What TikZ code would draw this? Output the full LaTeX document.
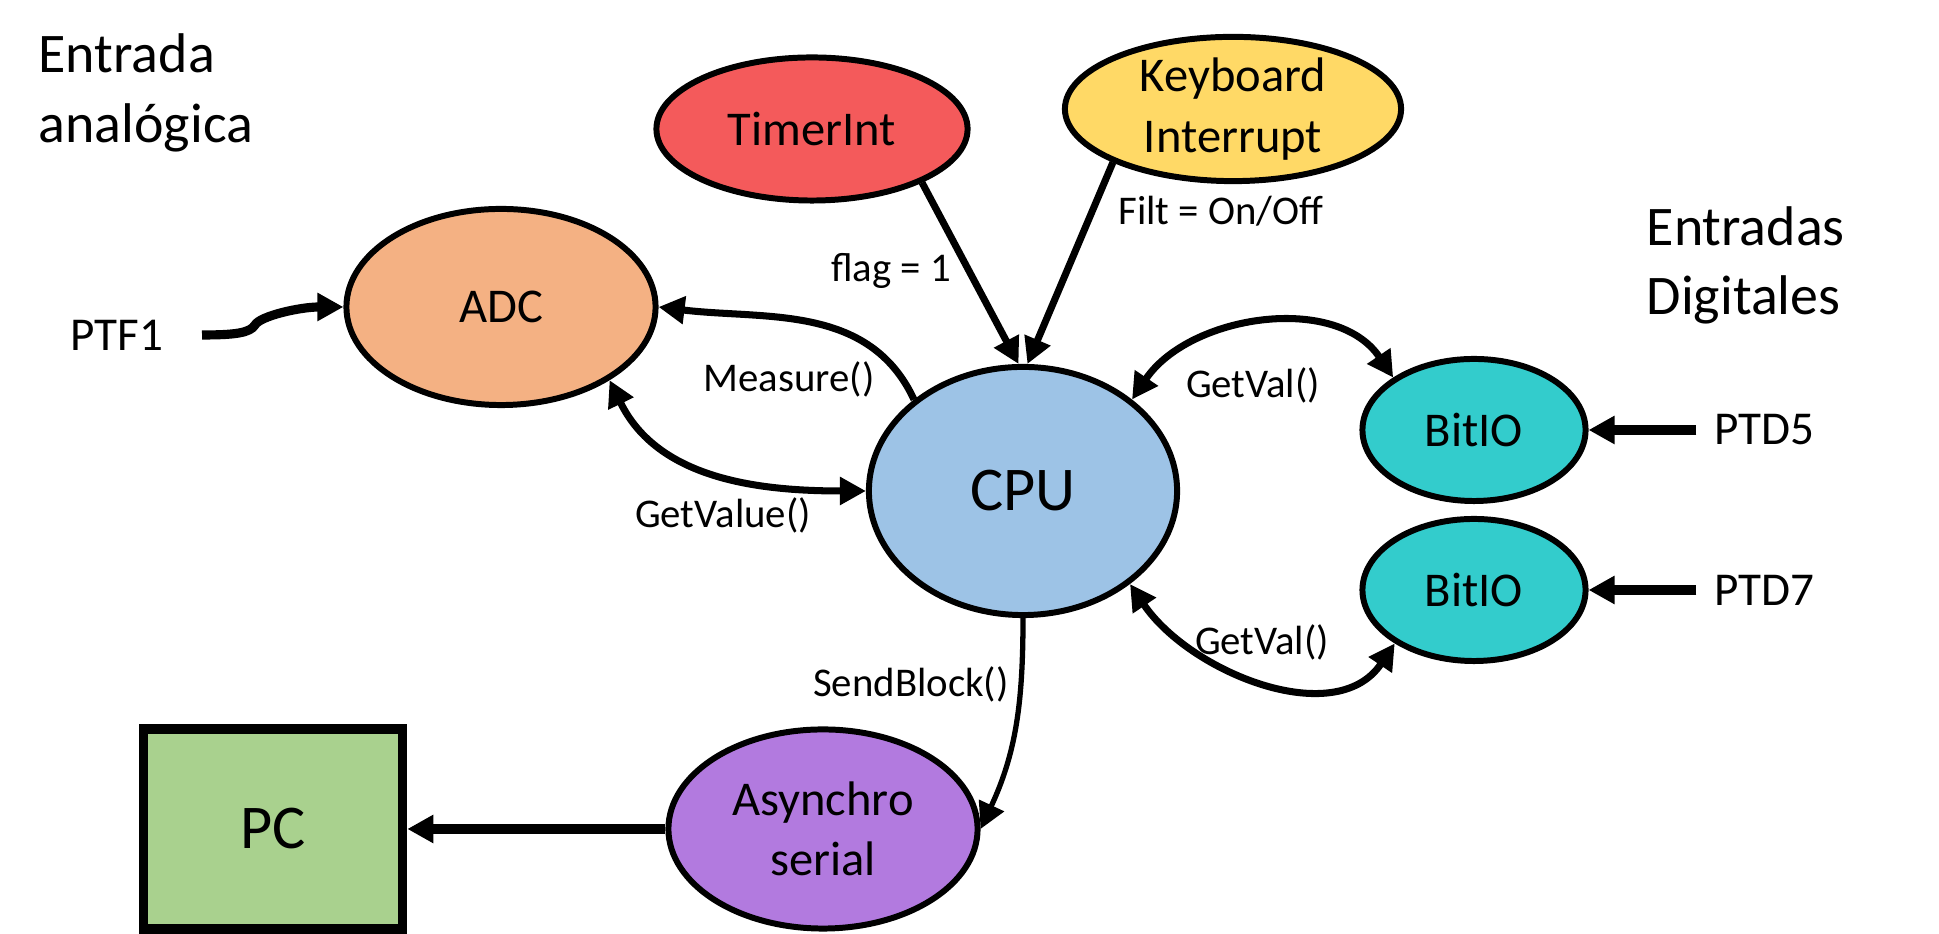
\documentclass[tikz,border=0pt]{standalone}
\usepackage{fontspec}
\setmainfont{Carlito}
\usepackage{tikz}
\usetikzlibrary{arrows.meta,shapes.geometric}

\definecolor{taronja}{HTML}{F4B183}
\definecolor{vermell}{HTML}{F45A5B}
\definecolor{groc}{HTML}{FFD966}
\definecolor{blau}{HTML}{9DC3E6}
\definecolor{turquesa}{HTML}{33CCCC}
\definecolor{lila}{HTML}{B27ADF}
\definecolor{verd}{HTML}{A9D18E}

\begin{document}
\begin{tikzpicture}[
    x=0.01cm,
    y=0.01cm,
    >={Triangle[length=7.4pt,width=7.6pt]},
    bloc/.style={ellipse, draw, line width=1.7pt, inner sep=0pt, align=center,
        font=\fontsize{13.8}{17.2}\selectfont},
    fletxa/.style={->, line width=2pt},
    doble/.style={<->, line width=2pt},
    grossa/.style={->, line width=2.6pt},
    etiqueta/.style={anchor=base, inner sep=0pt, font=\fontsize{11.6}{14}\selectfont},
    titol/.style={anchor=base west, inner sep=0pt, align=left,
        font=\fontsize{15.9}{19.9}\selectfont},
    port/.style={inner ysep=0pt, font=\fontsize{13.4}{16}\selectfont}
]

    \useasboundingbox (0,0) rectangle (1939,934);

    % Titols
    \node[titol] (analogica) at (38,791) {Entrada\\analógica};
    \node[titol] (digitals) at (1646,619) {Entradas\\Digitales};

    % Blocs
    \node[bloc, fill=taronja, minimum width=3.09cm, minimum height=1.96cm] (adc) at (501,627) {ADC};
    \node[bloc, fill=vermell, minimum width=3.11cm, minimum height=1.43cm] (timer) at (812,805) {TimerInt};
    \node[bloc, fill=groc, minimum width=3.36cm, minimum height=1.44cm] (kbd) at (1233,825) {Keyboard\\Interrupt};
    \node[bloc, fill=blau, minimum width=3.08cm, minimum height=2.48cm,
        font=\fontsize{17.7}{21}\selectfont] (cpu) at (1023,443) {CPU};
    \node[bloc, fill=turquesa, minimum width=2.23cm, minimum height=1.42cm] (bit5) at (1474,504) {BitIO};
    \node[bloc, fill=turquesa, minimum width=2.23cm, minimum height=1.42cm] (bit7) at (1474,344) {BitIO};
    \node[bloc, fill=lila, minimum width=3.09cm, minimum height=1.99cm] (serial) at (823,105) {Asynchro\\serial};

    % PC
    \node[draw, line width=2.7pt, fill=verd, minimum width=2.59cm, minimum height=2.0cm,
        font=\fontsize{17.7}{21}\selectfont] (pc) at (273,105) {PC};

    % Ports
    \node[port, inner xsep=10.8pt] (ptf1) at (117,599) {PTF1};
    \node[port, inner xsep=4.8pt] (ptd5) at (1764,504) {PTD5};
    \node[port, inner xsep=4.8pt] (ptd7) at (1764,344) {PTD7};

    % PTF1 -> ADC
    \draw[
        grossa
    ] (ptf1.east) .. controls (235,599) and (250,601) .. (255,609)
        .. controls (260,618) and (300,627) .. (adc.west);

    % PTD5, PTD7
    \draw[grossa] (ptd5) -- (bit5.east);
    \draw[grossa] (ptd7) -- (bit7.east);

    % Interrupcions
    \draw[
        fletxa
    ] (timer.-26) -- (cpu.92);
    \node[etiqueta] (flag) at (891,652) {flag = 1};

    \draw[
        fletxa
    ] (kbd.-156) -- (cpu.88);
    \node[etiqueta] (filt) at (1221,709) {Filt = On/Off};

    % CPU <-> ADC
    \draw[
        fletxa
    ] (cpu.140) to[out=115, in=-7] (adc.east);
    \node[etiqueta] (measure) at (789,542) {Measure()};

    \draw[
        doble
    ] (adc.-34) to[out=-64, in=180] (cpu.west);
    \node[etiqueta] (getvalue) at (723,406) {GetValue()};

    % CPU <-> BitIO
    \draw[
        doble
    ] (cpu.40) to[out=56, in=124] (bit5.147);
    \node[etiqueta] (getvalA) at (1253,536) {GetVal()};

    \draw[
        doble
    ] (cpu.-41) to[out=-56, in=-124] (bit7.-146);
    \node[etiqueta] (getvalB) at (1262,279) {GetVal()};

    % CPU -> serie -> PC
    \draw[
        ->,
        line width=1.5pt
    ] (cpu.south) to[out=-90, in=65] (serial.east);
    \node[etiqueta] (sendblock) at (911,237) {SendBlock()};

    \draw[
        grossa
    ] (serial.west) -- (pc.east);

\end{tikzpicture}
\end{document}
